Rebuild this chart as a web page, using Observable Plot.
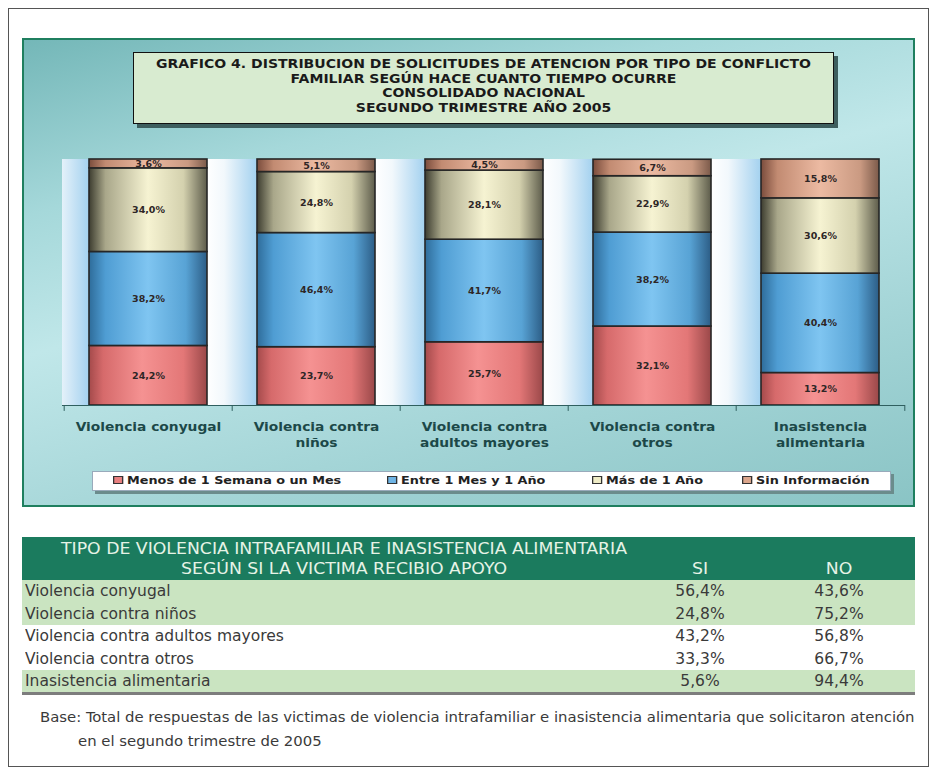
<!DOCTYPE html>
<html><head><meta charset="utf-8">
<script src="https://cdn.jsdelivr.net/npm/d3@7"></script>
<script src="https://cdn.jsdelivr.net/npm/@observablehq/plot@0.6"></script>
<style>
body{margin:0;width:937px;height:774px;background:#fff;position:relative;overflow:hidden;font-family:"DejaVu Sans",sans-serif}
.abs{position:absolute;box-sizing:border-box}
#frame{left:8px;top:8px;width:921px;height:759px;border:1px solid #555}
#panel{left:22px;top:38px;width:893px;height:469px;border:2px solid #1f7f5f;
 background:linear-gradient(165deg,#74b7b8 0%,#a5d8da 25%,#c0e7e9 45%,#a1d3d5 75%,#8ac4c5 100%)}
#titlebox{left:133px;top:52px;width:701px;height:72px;background:#d8ebd0;border:1.5px solid #111;box-shadow:4px 4px 0 #3d5e5e;
 text-align:center;font-weight:bold;font-size:11.5px;line-height:14.5px;padding-top:4px;color:#1a1a1a}
#titlebox div{transform:scaleX(1.22);transform-origin:center;white-space:nowrap}
#chart{left:22px;top:150px}
#legend{left:92px;top:471px;width:799px;height:20px;background:#fff;box-shadow:3px 3px 0 #6b8c8c;border:1px solid #9ab}
.li{position:absolute;top:3px;font-size:10px;font-weight:bold;color:#222;white-space:nowrap;transform:scaleX(1.28);transform-origin:left center}
.sw{display:inline-block;width:6px;height:6px;border:1px solid #333;margin-right:3px;vertical-align:0px}
.narrow{font-family:"Liberation Sans Narrow","DejaVu Sans Condensed",sans-serif}
#thead{left:22px;top:537px;width:893px;height:43px;background:#1b7b5e;color:#e6f3e6;font-size:16px}
.row{position:absolute;left:22px;width:893px;height:22.6px;font-size:15px;color:#3a3a3a;line-height:22.6px}
.cell{position:absolute;top:0;white-space:nowrap}
.sx{transform:scaleX(1.15);transform-origin:left center}
.cx{transform:translateX(-50%) scaleX(1.15)}
.hx{transform:translateX(-50%) scaleX(1.2)}
#brule{left:22px;top:692px;width:893px;height:3px;background:#7d7d7d}
.foot{position:absolute;font-size:14px;color:#3a3a3a;white-space:nowrap;transform:scaleX(1.18);transform-origin:left center}
</style></head><body>
<div id="frame" class="abs"></div>
<div id="panel" class="abs"></div>
<div id="titlebox" class="abs"></div>
<div id="chart" class="abs"></div>
<div id="legend" class="abs"></div>
<div id="thead" class="abs narrow"></div>
<div id="tbody"></div>
<div id="brule" class="abs"></div>
<div class="foot narrow" style="left:40px;top:709px">Base: Total de respuestas de las victimas de violencia intrafamiliar e inasistencia alimentaria que solicitaron atención</div>
<div class="foot narrow" style="left:78px;top:733px">en el segundo trimestre de 2005</div>
<script>
// ---------- data ----------
const titleLines = ["GRAFICO 4. DISTRIBUCION DE SOLICITUDES DE ATENCION POR TIPO DE CONFLICTO",
  "FAMILIAR SEGÚN HACE CUANTO TIEMPO OCURRE","CONSOLIDADO NACIONAL","SEGUNDO TRIMESTRE AÑO 2005"];
const categories = ["Violencia conyugal","Violencia contra niños","Violencia contra adultos mayores","Violencia contra otros","Inasistencia alimentaria"];
const categoryLabels = ["Violencia conyugal","Violencia contra\nniños","Violencia contra\nadultos mayores","Violencia contra\notros","Inasistencia\nalimentaria"];
const series = ["Menos de 1 Semana o un Mes","Entre 1 Mes y 1 Año","Más de 1 Año","Sin Información"];
const menosValues = [24.2,23.7,25.7,32.1,13.2];
const entreValues = [38.2,46.4,41.7,38.2,40.4];
const masValues   = [34.0,24.8,28.1,22.9,30.6];
const sinValues   = [3.6,5.1,4.5,6.7,15.8];
const tableTitle = ["TIPO DE VIOLENCIA INTRAFAMILIAR E INASISTENCIA ALIMENTARIA","SEGÚN SI LA VICTIMA RECIBIO APOYO"];
const tableColumns = ["SI","NO"];
const tableRows = ["Violencia conyugal","Violencia contra niños","Violencia contra adultos mayores","Violencia contra otros","Inasistencia alimentaria"];
const siValues = [56.4,24.8,43.2,33.3,5.6];
const noValues = [43.6,75.2,56.8,66.7,94.4];

// ---------- styles ----------
const seriesSwatch = ["#e98080","#6fb5e6","#efecc6","#dca68c"];
const rowFills = ["#cae4c1","#cae4c1","#ffffff","#ffffff","#cae4c1"];
const fmt = v => v.toFixed(1).replace(".", ",") + "%";

// title
document.getElementById("titlebox").innerHTML = titleLines.map(t=>`<div>${t}</div>`).join("");

// chart
const valueSets = [menosValues, entreValues, masValues, sinValues];
const data = categories.flatMap((c,i)=>series.map((s,j)=>({category:c, series:s, value:valueSets[j][i]})));
const W=893,H=300,ML=40,MR=10,MT=9,MB=45;
const step=(W-ML-MR)/categories.length, bw=step*0.7, gap=step*0.3;
const gradIds=["gRed","gBlue","gBeige","gPeach"];
const labelOf = Object.fromEntries(categories.map((c,i)=>[c,categoryLabels[i]]));
const chart = Plot.plot({
  width:W,height:H,marginLeft:ML,marginRight:MR,marginTop:MT,marginBottom:MB,
  style:{background:"transparent",overflow:"visible"},
  x:{type:"band",domain:categories,paddingInner:0.3,paddingOuter:0.15,label:null},
  y:{domain:[0,100],axis:null},
  color:{type:"ordinal",domain:series,range:gradIds.map(id=>`url(#${id})`)},
  marks:[
    Plot.barY(categories,{x:d=>d,y1:0,y2:100,insetLeft:-gap,insetRight:bw,fill:"url(#gGap)",clip:true}),
    Plot.barY(data,{x:"category",y:"value",fill:"series",stroke:"#262626",strokeWidth:1.6}),
    Plot.text(data,Plot.stackY({x:"category",y:"value",z:"series",text:d=>fmt(d.value),
      fontSize:9.5,fontWeight:"bold",fill:"#2e2626",fontFamily:"DejaVu Sans"})),
    Plot.ruleY([0],{stroke:"#2f5f5f"}),
    Plot.ruleX(categories,{x:d=>d,dx:-step/2,y1:0,y2:-2.4,stroke:"#2f5f5f"}),
    Plot.ruleX(categories.slice(-1),{x:d=>d,dx:step/2,y1:0,y2:-2.4,stroke:"#2f5f5f"}),
    Plot.axisX({tickSize:0,tickPadding:14,fontSize:11.5,fontWeight:"bold",fill:"#1c4848",lineHeight:1.38,
      fontFamily:"DejaVu Sans",label:null,tickFormat:d=>labelOf[d]})
  ]
});
const defs = d3.select(chart).insert("defs",":first-child");
function grad(id,stops){const g=defs.append("linearGradient").attr("id",id).attr("x1",0).attr("x2",1).attr("y1",0).attr("y2",0);
  stops.forEach(([o,c])=>g.append("stop").attr("offset",o).attr("stop-color",c));}
grad("gRed",[[0,"#a44a4b"],[0.12,"#d66a6b"],[0.45,"#f59292"],[0.8,"#e37777"],[1,"#9a4849"]]);
grad("gBlue",[[0,"#2e6c9a"],[0.14,"#4f9dd3"],[0.5,"#7fc5f1"],[0.82,"#58a3d5"],[1,"#2c5d86"]]);
grad("gBeige",[[0,"#3d3d30"],[0.14,"#a9a78a"],[0.5,"#f6f3d2"],[0.8,"#d4d1ae"],[1,"#5d5c4b"]]);
grad("gPeach",[[0,"#7a4c3c"],[0.14,"#c28b72"],[0.5,"#ecbaa2"],[0.84,"#ca9a82"],[1,"#7b5a4a"]]);
grad("gGap",[[0,"#ffffff"],[0.35,"#f2f8fc"],[1,"#a3d1ef"]]);
// horizontal stretch of axis labels to match reference lettering width
d3.select(chart).selectAll('g[aria-label="x-axis tick label"] text')
  .attr("transform", function(){ return (this.getAttribute("transform")||"") + " scale(1.2,1)"; });
document.getElementById("chart").appendChild(chart);

// legend
const legendX=[20,294,499,649];
document.getElementById("legend").innerHTML = series.map((s,i)=>
  `<div class="li" style="left:${legendX[i]}px"><span class="sw" style="background:${seriesSwatch[i]}"></span>${s}</div>`).join("");

// table header
document.getElementById("thead").innerHTML =
  `<div class="cell hx" style="left:322px;top:2px">${tableTitle[0]}</div>`+
  `<div class="cell hx" style="left:322px;top:22px">${tableTitle[1]}</div>`+
  `<div class="cell hx" style="left:678px;top:22px">${tableColumns[0]}</div>`+
  `<div class="cell hx" style="left:817px;top:22px">${tableColumns[1]}</div>`;
document.getElementById("tbody").innerHTML = tableRows.map((r,i)=>
  `<div class="row narrow" style="top:${580+i*22.6}px;background:${rowFills[i]}">
    <div class="cell sx" style="left:3px">${r}</div>
    <div class="cell cx" style="left:678px">${fmt(siValues[i])}</div>
    <div class="cell cx" style="left:817px">${fmt(noValues[i])}</div></div>`).join("");
</script>
</body></html>
